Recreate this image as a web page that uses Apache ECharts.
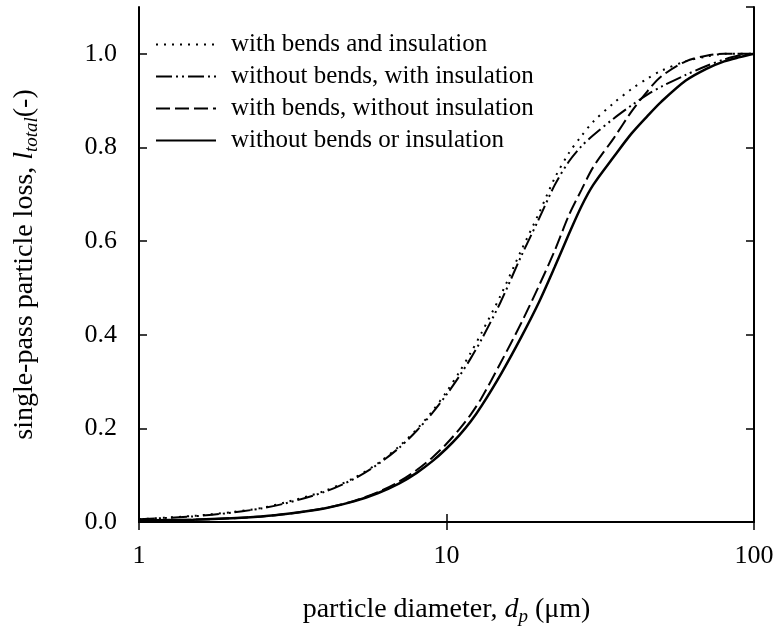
<!DOCTYPE html>
<html>
<head>
<meta charset="utf-8">
<script src="https://cdn.jsdelivr.net/npm/echarts@6/dist/echarts.min.js"></script>
<style>
html,body{margin:0;padding:0;background:#fff;}
#main{width:782px;height:642px;}
</style>
</head>
<body>
<div id="main"></div>
<script>
// particle diameter (µm)
const diameters = [1, 1.5, 2, 2.5, 3, 4, 5, 6, 7, 8, 9, 10, 11, 12, 13, 15, 17.5, 20, 22.5, 25, 27.5, 30, 35, 40, 45, 50, 60, 70, 80, 90, 100];
// single-pass particle loss for each configuration
const withBendsAndInsulation     = [0.006, 0.013, 0.021, 0.030, 0.042, 0.066, 0.094, 0.126, 0.161, 0.198, 0.237, 0.278, 0.320, 0.362, 0.404, 0.484, 0.580, 0.660, 0.735, 0.788, 0.825, 0.855, 0.895, 0.925, 0.947, 0.964, 0.984, 0.994, 1.0, 1.0, 1.0];
const withoutBendsWithInsulation = [0.006, 0.012, 0.020, 0.029, 0.040, 0.064, 0.092, 0.124, 0.158, 0.195, 0.233, 0.272, 0.311, 0.350, 0.390, 0.470, 0.568, 0.648, 0.720, 0.770, 0.803, 0.826, 0.862, 0.890, 0.913, 0.930, 0.955, 0.974, 0.988, 0.997, 1.0];
const withBendsWithoutInsulation = [0.003, 0.005, 0.008, 0.012, 0.017, 0.029, 0.045, 0.064, 0.086, 0.111, 0.138, 0.167, 0.198, 0.230, 0.265, 0.340, 0.425, 0.505, 0.580, 0.655, 0.710, 0.758, 0.820, 0.877, 0.920, 0.952, 0.984, 0.996, 1.0, 1.0, 1.0];
const withoutBendsOrInsulation   = [0.003, 0.005, 0.008, 0.012, 0.017, 0.029, 0.044, 0.062, 0.082, 0.105, 0.130, 0.157, 0.185, 0.215, 0.248, 0.315, 0.395, 0.470, 0.545, 0.615, 0.675, 0.720, 0.780, 0.830, 0.867, 0.898, 0.943, 0.968, 0.984, 0.993, 1.0];

const seriesNames = [
  'with bends and insulation',
  'without bends, with insulation',
  'with bends, without insulation',
  'without bends or insulation'
];
const yTicks = [0, 0.2, 0.4, 0.6, 0.8, 1.0];

const FONT = '"Liberation Serif", "DejaVu Serif", serif';
const pair = (vals) => diameters.map((d, i) => [d, vals[i]]);

const chart = echarts.init(document.getElementById('main'));

function mkSeries(name, vals, type, width) {
  return {
    name: name,
    type: 'line',
    data: pair(vals),
    showSymbol: false,
    symbol: 'none',
    smooth: 0.3,
    lineStyle: { color: '#000', width: width, type: type, cap: 'butt' },
    itemStyle: { color: '#000' },
    z: 3
  };
}

const option = {
  backgroundColor: '#fff',
  animation: false,
  grid: { left: 139, right: 28, top: 7, bottom: 120, containLabel: false },
  legend: {
    orient: 'vertical',
    left: 155,
    top: 32,
    padding: 0,
    itemWidth: 60,
    itemHeight: 14,
    itemGap: 7,
    data: seriesNames,
    itemStyle: { opacity: 0 },
    textStyle: { fontFamily: FONT, fontSize: 25, color: '#000', padding: [0, 0, 0, 10] }
  },
  xAxis: [{
    type: 'log',
    logBase: 10,
    min: 1,
    max: 100,
    name: '{n|particle diameter, }{i|d}{s|p}{n| (μm)}',
    nameLocation: 'middle',
    nameGap: 71,
    nameTextStyle: {
      rich: {
        n: { fontFamily: FONT, fontSize: 28, color: '#000' },
        i: { fontFamily: FONT, fontSize: 28, fontStyle: 'italic', color: '#000' },
        s: { fontFamily: FONT, fontSize: 19, fontStyle: 'italic', color: '#000', padding: [14, 0, 0, 0] }
      }
    },
    axisLine: { show: true, lineStyle: { color: '#000', width: 2 } },
    axisTick: { show: true, inside: true, length: 8, lineStyle: { color: '#000', width: 1.5 } },
    minorTick: { show: false },
    splitLine: { show: false },
    axisLabel: { fontFamily: FONT, fontSize: 26, color: '#000', margin: 21 }
  }, {
    type: 'log',
    logBase: 10,
    min: 1,
    max: 100,
    position: 'top',
    axisLine: { show: true, lineStyle: { color: '#000', width: 2 } },
    axisTick: { show: true, inside: true, length: 8, lineStyle: { color: '#000', width: 1.5 } },
    axisLabel: { show: false },
    splitLine: { show: false }
  }],
  yAxis: [{
    type: 'value',
    min: 0,
    max: 1.1,
    interval: 0.2,
    name: '{n|single-pass particle loss, }{i|l}{s|total}{n|(-)}',
    nameLocation: 'middle',
    nameRotate: 90,
    nameGap: 98,
    nameTextStyle: {
      rich: {
        n: { fontFamily: FONT, fontSize: 28, color: '#000' },
        i: { fontFamily: FONT, fontSize: 28, fontStyle: 'italic', color: '#000' },
        s: { fontFamily: FONT, fontSize: 19, fontStyle: 'italic', color: '#000', padding: [14, 0, 0, 0] }
      }
    },
    axisLine: { show: true, lineStyle: { color: '#000', width: 2 } },
    axisTick: { show: true, inside: true, length: 8, lineStyle: { color: '#000', width: 1.5 } },
    splitLine: { show: false },
    axisLabel: {
      fontFamily: FONT, fontSize: 26, color: '#000', margin: 22,
      showMaxLabel: false,
      formatter: (v) => (yTicks.some(t => Math.abs(t - v) < 1e-9) ? v.toFixed(1) : '')
    }
  }, {
    type: 'value',
    min: 0,
    max: 1.1,
    interval: 0.2,
    position: 'right',
    axisLine: { show: true, lineStyle: { color: '#000', width: 2 } },
    axisTick: { show: true, inside: true, length: 8, lineStyle: { color: '#000', width: 1.5 } },
    axisLabel: { show: false },
    splitLine: { show: false }
  }],
  series: [
    mkSeries(seriesNames[0], withBendsAndInsulation, [2, 6], 2),
    mkSeries(seriesNames[1], withoutBendsWithInsulation, [16, 4, 2, 4, 2, 4], 2),
    mkSeries(seriesNames[2], withBendsWithoutInsulation, [14, 5], 2),
    mkSeries(seriesNames[3], withoutBendsOrInsulation, 'solid', 2.5)
  ]
};
chart.setOption(option);
</script>
</body>
</html>
